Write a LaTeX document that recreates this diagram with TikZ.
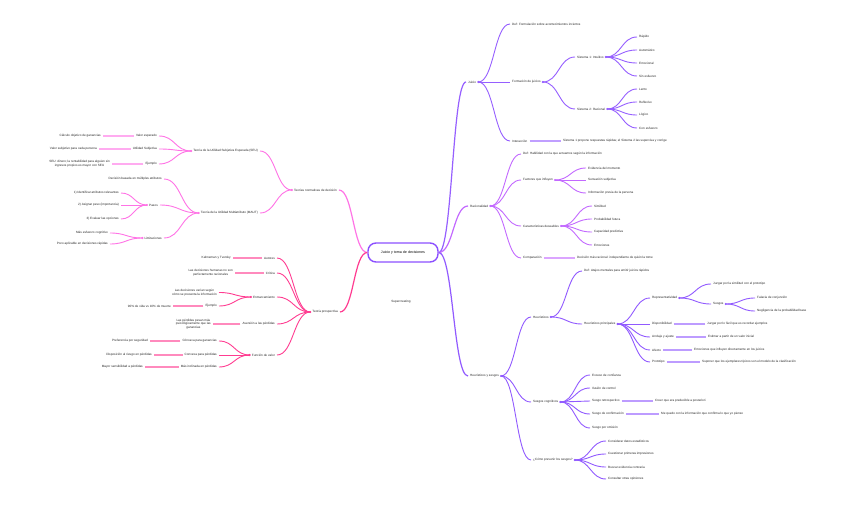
\documentclass[tikz,border=0pt]{standalone}
\usepackage{fontspec}
\setmainfont{Liberation Sans}
\usetikzlibrary{calc}
\definecolor{cC}{RGB}{140,80,255}
\definecolor{cJ}{RGB}{150,95,255}
\definecolor{cR}{RGB}{195,105,255}
\definecolor{cH}{RGB}{145,90,255}
\definecolor{cT}{RGB}{255,115,230}
\definecolor{cP}{RGB}{255,60,145}
\newcommand{\edgeR}[3]{\draw[#1] let \p1=(#2.east), \p2=(#3.west) in (\p1) .. controls ({(\x1+\x2)/2},\y1) and ({(\x1+\x2)/2},\y2) .. (\p2);}
\newcommand{\edgeL}[3]{\draw[#1] let \p1=(#2.west), \p2=(#3.east) in (\p1) .. controls ({(\x1+\x2)/2},\y1) and ({(\x1+\x2)/2},\y2) .. (\p2);}
\begin{document}
\begin{tikzpicture}[x=1pt,y=-1pt,
  t/.style={font=\fontsize{3.1}{3.7}\selectfont, inner xsep=2pt, inner ysep=0.5pt, text=black!85},
  rt/.style={t,anchor=west,align=left},
  lt/.style={t,anchor=east,align=center},
  e/.style={draw=#1, line width=0.9pt},
  e1/.style={draw=#1, line width=1.2pt},
  st/.style={draw=#1, line width=1.4pt, draw opacity=0.6},
  dotc/.style={fill=#1}]
\useasboundingbox[fill=white] (0,0) rectangle (848,526);

% centre
\node[draw=cC, line width=1.4pt, rounded corners=8pt, minimum width=70pt, minimum height=19pt,
  inner sep=0pt, font=\fontsize{3.6}{4}\selectfont] (C) at (403,252.5) {Juicio y toma de decisiones};
\node[t] (FT) at (401,302) {Supercreating};

% ===== right: Juicio =====
\node[rt] (J) at (466,82) {Juicio};
\node[rt] (J1) at (510,24) {Def: Formulación sobre acontecimientos inciertos};
\node[rt] (J2) at (510,82) {Formación de juicios};
\node[rt] (J3) at (510,141) {Interacción};
\node[rt] (J3a) at (561,141) {Sistema 1 propone respuestas rápidas; el Sistema 2 las supervisa y corrige};
\node[rt] (S1) at (575,57) {Sistema 1: Intuitivo};
\node[rt] (S2) at (575,109) {Sistema 2: Racional};
\node[rt] (S1a) at (637,37) {Rápido};
\node[rt] (S1b) at (637,50) {Automático};
\node[rt] (S1c) at (637,63) {Emocional};
\node[rt] (S1d) at (637,76) {Sin esfuerzo};
\node[rt] (S2a) at (637,89) {Lento};
\node[rt] (S2b) at (637,102) {Reflexivo};
\node[rt] (S2c) at (637,115) {Lógico};
\node[rt] (S2d) at (637,128) {Con esfuerzo};

\edgeR{e1=cJ}{C}{J}
\edgeR{e=cJ}{J}{J1}
\edgeR{e=cJ}{J}{J2}
\edgeR{e=cJ}{J}{J3}
\draw[st=cJ] (J3.east) -- (J3a.west);
\edgeR{e=cJ}{J2}{S1}
\edgeR{e=cJ}{J2}{S2}
\foreach \k in {S1a,S1b,S1c,S1d} {\edgeR{e=cJ}{S1}{\k}}
\foreach \k in {S2a,S2b,S2c,S2d} {\edgeR{e=cJ}{S2}{\k}}
\foreach \k in {J,J2,S1,S2} {\fill[cJ] (\k.east) circle (1.2pt);}

% ===== right: Racionalidad =====
\node[rt] (R) at (468,206) {Racionalidad};
\node[rt] (R1) at (521,154) {Def: Habilidad con la que actuamos según la información};
\node[rt] (R2) at (521,180) {Factores que influyen};
\node[rt] (R3) at (521,226) {Características deseables};
\node[rt] (R4) at (521,258) {Comparación};
\node[rt] (R4a) at (575,258) {Decisión más racional: independiente de quién la tome};
\node[rt] (R2a) at (586,168) {Evidencia del momento};
\node[rt] (R2b) at (586,180) {Sensación subjetiva};
\node[rt] (R2c) at (586,193) {Información previa de la persona};
\node[rt] (R3a) at (592,206) {Similitud};
\node[rt] (R3b) at (592,219) {Probabilidad futura};
\node[rt] (R3c) at (592,232) {Capacidad predictiva};
\node[rt] (R3d) at (592,245) {Emociones};

\edgeR{e1=cR}{C}{R}
\foreach \k in {R1,R2,R3,R4} {\edgeR{e=cR}{R}{\k}}
\draw[st=cR] (R4.east) -- (R4a.west);
\foreach \k in {R2a,R2b,R2c} {\edgeR{e=cR}{R2}{\k}}
\foreach \k in {R3a,R3b,R3c,R3d} {\edgeR{e=cR}{R3}{\k}}
\foreach \k in {R,R2,R3} {\fill[cR] (\k.east) circle (1.2pt);}

% ===== right: Heurísticos y sesgos =====
\node[rt] (H) at (468,376) {Heurísticos y sesgos};
\node[rt] (H1) at (531,317) {Heurísticos};
\node[rt] (H1a) at (582,271) {Def: Atajos mentales para emitir juicios rápidos};
\node[rt] (H1b) at (582,324) {Heurísticos principales};
\node[rt] (Rep) at (650,298) {Representatividad};
\node[rt] (Dis) at (650,324) {Disponibilidad};
\node[rt] (Anc) at (650,337) {Anclaje y ajuste};
\node[rt] (Afe) at (650,350) {Afecto};
\node[rt] (Pro) at (650,362) {Prototipo};
\node[rt] (Rep1) at (711,284) {Juzgar por la similitud con el prototipo};
\node[rt] (Rep2) at (711,304) {Sesgos};
\node[rt] (Ses1) at (755,298) {Falacia de conjunción};
\node[rt] (Ses2) at (755,311) {Negligencia de la probabilidad base};
\node[rt] (Dis1) at (705,324) {Juzgar por lo fácil que es recordar ejemplos};
\node[rt] (Anc1) at (706,337) {Estimar a partir de un valor inicial};
\node[rt] (Afe1) at (692,350) {Emociones que influyen directamente en los juicios};
\node[rt] (Pro1) at (700,362) {Suponer que los ejemplares típicos son el modelo de la clasificación};
\node[rt] (H2) at (531,402) {Sesgos cognitivos};
\node[rt] (B1) at (590,375) {Exceso de confianza};
\node[rt] (B2) at (590,388) {Ilusión de control};
\node[rt] (B3) at (590,401) {Sesgo retrospectivo};
\node[rt] (B4) at (590,414) {Sesgo de confirmación};
\node[rt] (B5) at (590,428) {Sesgo por omisión};
\node[rt] (B3a) at (653,401) {Creer que era predecible a posteriori};
\node[rt] (B4a) at (659,414) {Me quedo con la información que confirma lo que yo pienso};
\node[rt] (H3) at (531,460) {¿Cómo prevenir los sesgos?};
\node[rt] (V1) at (606,441) {Considerar datos estadísticos};
\node[rt] (V2) at (606,454) {Cuestionar primeras impresiones};
\node[rt] (V3) at (606,467) {Buscar evidencia contraria};
\node[rt] (V4) at (606,479) {Consultar otras opiniones};

\edgeR{e1=cH}{C}{H}
\foreach \k in {H1,H2,H3} {\edgeR{e=cH}{H}{\k}}
\edgeR{e=cH}{H1}{H1a}
\edgeR{e=cH}{H1}{H1b}
\foreach \k in {Rep,Dis,Anc,Afe,Pro} {\edgeR{e=cH}{H1b}{\k}}
\edgeR{e=cH}{Rep}{Rep1}
\edgeR{e=cH}{Rep}{Rep2}
\edgeR{e=cH}{Rep2}{Ses1}
\edgeR{e=cH}{Rep2}{Ses2}
\draw[st=cH] (Dis.east) -- (Dis1.west);
\draw[st=cH] (Anc.east) -- (Anc1.west);
\draw[st=cH] (Afe.east) -- (Afe1.west);
\draw[st=cH] (Pro.east) -- (Pro1.west);
\foreach \k in {B1,B2,B3,B4,B5} {\edgeR{e=cH}{H2}{\k}}
\draw[st=cH] (B3.east) -- (B3a.west);
\draw[st=cH] (B4.east) -- (B4a.west);
\foreach \k in {V1,V2,V3,V4} {\edgeR{e=cH}{H3}{\k}}
\foreach \k in {H,H1,H1b,Rep,Rep2,H2,H3} {\fill[cH] (\k.east) circle (1.2pt);}

% ===== left: Teorías normativas =====
\node[lt] (T) at (339,190) {Teorías normativas de decisión};
\node[lt] (U) at (260,151) {Teoría de la Utilidad Subjetiva Esperada (SEU)};
\node[lt] (M) at (260,213) {Teoría de la Utilidad Multiatributo (MAUT)};
\node[lt] (U1) at (159,136) {Valor esperado};
\node[lt] (U2) at (159,149) {Utilidad Subjetiva};
\node[lt] (U3) at (159,164) {Ejemplo};
\node[lt] (U1a) at (103,136) {Cálculo objetivo de ganancias};
\node[lt] (U2a) at (99,149) {Valor subjetivo para cada persona};
\node[lt] (U3a) at (112,164) {SEU: dinero; la rentabilidad para alguien sin\\ingresos propios es mayor con SEU};
\node[lt] (M1) at (164,179) {Decisión basada en múltiples atributos};
\node[lt] (M2) at (160,205) {Pasos};
\node[lt] (M3) at (164,238) {Limitaciones};
\node[lt] (M2a) at (121,193) {1) Identificar atributos relevantes};
\node[lt] (M2b) at (121,205) {2) Asignar peso (importancia)};
\node[lt] (M2c) at (121,219) {3) Evaluar las opciones};
\node[lt] (M3a) at (110,233) {Más esfuerzo cognitivo};
\node[lt] (M3b) at (110,244) {Poco aplicable en decisiones rápidas};

\edgeL{e1=cT}{C}{T}
\edgeL{e=cT}{T}{U}
\edgeL{e=cT}{T}{M}
\foreach \k in {U1,U2,U3} {\edgeL{e=cT}{U}{\k}}
\draw[st=cT] (U1.west) -- (U1a.east);
\draw[st=cT] (U2.west) -- (U2a.east);
\draw[st=cT] (U3.west) -- (U3a.east);
\foreach \k in {M1,M2,M3} {\edgeL{e=cT}{M}{\k}}
\foreach \k in {M2a,M2b,M2c} {\edgeL{e=cT}{M2}{\k}}
\foreach \k in {M3a,M3b} {\edgeL{e=cT}{M3}{\k}}
\foreach \k in {T,U,M,M2,M3} {\fill[cT] (\k.west) circle (1.2pt);}

% ===== left: Teoría prospectiva =====
\node[lt] (P) at (340,312) {Teoría prospectiva};
\node[lt] (P1) at (277,258) {Autores};
\node[lt] (P2) at (277,273) {Crítica};
\node[lt] (P3) at (277,297) {Enmarcamiento};
\node[lt] (P4) at (277,324) {Aversión a las pérdidas};
\node[lt] (P5) at (277,355) {Función de valor};
\node[lt] (P1a) at (233,258) {Kahneman y Tversky};
\node[lt] (P2a) at (235,273) {Las decisiones humanas no son\\perfectamente racionales};
\node[lt] (P3a) at (219,292.5) {Las decisiones varían según\\cómo se presenta la información};
\node[lt] (P3b) at (219,306) {Ejemplo};
\node[lt] (P3b1) at (173,306) {90\% de vida vs 10\% de muerte};
\node[lt] (P4a) at (213,324) {Las pérdidas pesan más\\psicológicamente que las\\ganancias};
\node[lt] (P51) at (219,341) {Cóncava para ganancias};
\node[lt] (P52) at (219,355) {Convexa para pérdidas};
\node[lt] (P53) at (219,367) {Más inclinada en pérdidas};
\node[lt] (P51a) at (150,341) {Preferencia por seguridad};
\node[lt] (P52a) at (154,355) {Disposición al riesgo en pérdidas};
\node[lt] (P53a) at (145,367) {Mayor sensibilidad a pérdidas};

\edgeL{e1=cP}{C}{P}
\foreach \k in {P1,P2,P3,P4,P5} {\edgeL{e=cP}{P}{\k}}
\draw[st=cP] (P1.west) -- (P1a.east);
\draw[st=cP] (P2.west) -- (P2a.east);
\draw[st=cP] (P4.west) -- (P4a.east);
\edgeL{e=cP}{P3}{P3a}
\edgeL{e=cP}{P3}{P3b}
\draw[st=cP] (P3b.west) -- (P3b1.east);
\foreach \k in {P51,P52,P53} {\edgeL{e=cP}{P5}{\k}}
\draw[st=cP] (P51.west) -- (P51a.east);
\draw[st=cP] (P52.west) -- (P52a.east);
\draw[st=cP] (P53.west) -- (P53a.east);
\foreach \k in {P,P3,P5} {\fill[cP] (\k.west) circle (1.2pt);}
\end{tikzpicture}
\end{document}
